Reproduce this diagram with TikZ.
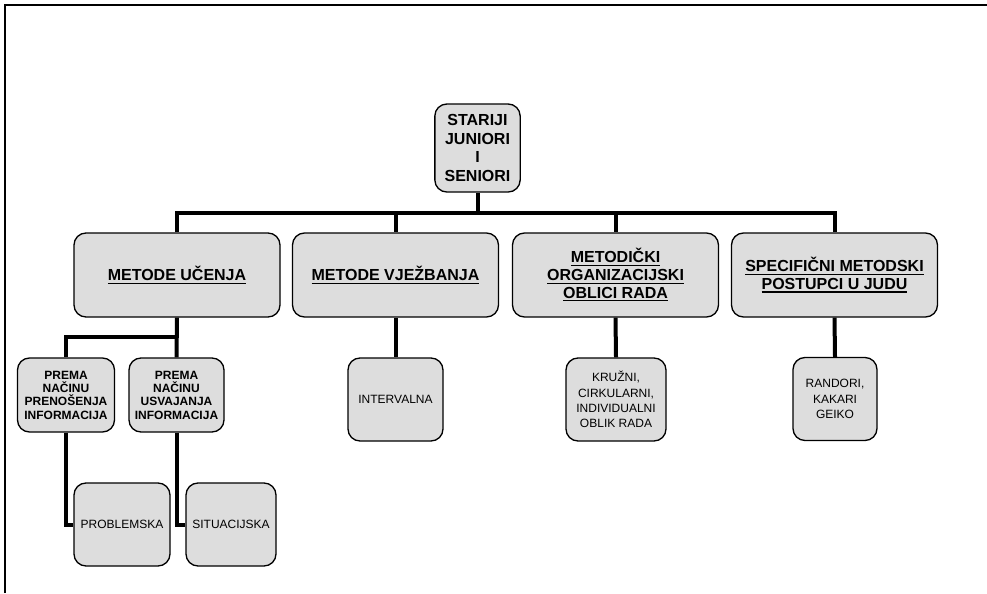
\documentclass[tikz,border=0pt]{standalone}
\usepackage{fontspec}
\setmainfont{Liberation Sans}
\usepackage{tikz}
\usetikzlibrary{arrows,backgrounds,calc}
\definecolor{boxgray}{RGB}{221,221,221}
\newcommand{\undl}[1]{\sbox0{#1}\rlap{\usebox0}\rule[-2.4pt]{\wd0}{0.9pt}}

\begin{document}
\begin{tikzpicture}[x=0.75pt,y=-0.75pt,
  box/.style={draw,fill=boxgray,line width=1pt,rounded corners=9pt,align=center,inner sep=0pt},
  topbox/.style={box,minimum width=64pt,minimum height=66pt,font=\fontsize{12}{13.8}\selectfont\bfseries},
  midbox/.style={box,minimum width=154.5pt,minimum height=63pt,font=\fontsize{12}{13.2}\selectfont\bfseries},
  waybox/.style={box,minimum height=55.5pt,font=\fontsize{9}{10}\selectfont\bfseries},
  leafbox/.style={box,minimum height=62.25pt,font=\fontsize{9}{11.5}\selectfont},
  link/.style={line width=3pt}]
\useasboundingbox (0,0) rectangle (987,593);
\draw[line width=1.5pt] (5,593) -- (5,5) -- (987,5);

\node[topbox] (root) at (477.5,148) {STARIJI\\JUNIORI\\I\\SENIORI};
\node[midbox] (ucenje) at (177,275) {\undl{METODE UČENJA}};
\node[midbox] (vjezbanje) at (395.5,275) {\undl{METODE VJEŽBANJA}};
\node[midbox] (oblici) at (615.5,275) {\undl{METODIČKI}\\\undl{ORGANIZACIJSKI}\\\undl{OBLICI RADA}};
\node[midbox] (judo) at (834.5,275) {\undl{SPECIFIČNI METODSKI}\\\undl{POSTUPCI U JUDU}};

\node[waybox,minimum width=72.75pt] (prenos) at (66,395) {PREMA\\NAČINU\\PRENOŠENJA\\INFORMACIJA};
\node[waybox,minimum width=71.25pt] (usvaj) at (176.5,395) {PREMA\\NAČINU\\USVAJANJA\\INFORMACIJA};
\node[leafbox,minimum width=71.25pt] (interv) at (395.5,399.5) {INTERVALNA};
\node[leafbox,minimum width=75pt] (kruzni) at (616,399.5) {KRUŽNI,\\CIRKULARNI,\\INDIVIDUALNI\\ OBLIK RADA};
\node[leafbox,minimum width=63pt] (randori) at (835,399) {RANDORI,\\KAKARI\\GEIKO};
\node[leafbox,minimum width=72pt] (problem) at (122,524.5) {PROBLEMSKA};
\node[leafbox,minimum width=67.5pt] (situ) at (231,524.5) {SITUACIJSKA};

\coordinate (bar) at (477.5,213);
\coordinate (split) at (177,337);
\draw[link] (root.south) -- (bar);
\draw[link] (ucenje.north) -- (ucenje.north |- bar) -- (judo.north |- bar) -- (judo.north);
\draw[link] (vjezbanje.north |- bar) -- (vjezbanje.north);
\draw[link] (oblici.north |- bar) -- (oblici.north);
\draw[link] (ucenje.south) -- (usvaj.north);
\draw[link] (prenos.north) -- (prenos.north |- split) -- (split);
\draw[link] (vjezbanje.south) -- (interv.north);
\draw[link] (oblici.south) -- (kruzni.north);
\draw[link] (judo.south) -- (randori.north);
\draw[link] (prenos.south) |- (problem.west);
\draw[link] (usvaj.south) |- (situ.west);
\end{tikzpicture}
\end{document}
